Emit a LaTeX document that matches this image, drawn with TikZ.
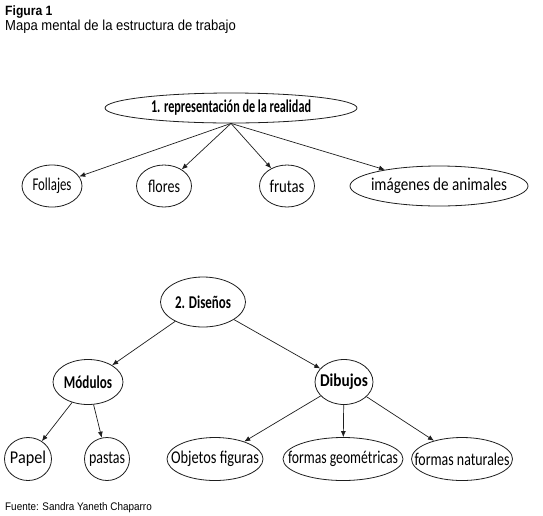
\documentclass[tikz,border=0pt]{standalone}
\usepackage{fontspec}
\setmainfont{Carlito}
\newfontfamily\capfont[FakeStretch=0.9]{Liberation Sans}
\usetikzlibrary{shapes.geometric, arrows.meta, positioning}
\definecolor{MapLine}{HTML}{1E1E1E}
\newcommand{\lbl}[2]{\makebox[0pt]{\resizebox{#1}{\height}{#2}}}

\begin{document}
\begin{tikzpicture}[x=1pt, y=-1pt, >={Latex[length=6pt,width=5pt]},
        concept/.style={ellipse, draw=MapLine, line width=0.8pt, inner sep=0pt, font=\fontsize{18}{20}\selectfont\bfseries},
        leaf/.style={ellipse, draw=MapLine, line width=0.8pt, inner sep=0pt, font=\fontsize{18}{20}\selectfont},
        caption/.style={anchor=base west, inner sep=0pt, font=\capfont},
        arrow/.style={->, MapLine, line width=0.7pt}]

        \useasboundingbox (0,0) rectangle (543,515);

        \node[caption, font=\capfont\bfseries\fontsize{13.5}{15}\selectfont] (fig) at (5,15) {Figura 1};
        \node[caption, font=\capfont\fontsize{14.5}{16}\selectfont] (title) at (5,30) {Mapa mental de la estructura de trabajo};

        % representacion
        \node[concept, minimum width=252pt, minimum height=30pt] (rep) at (231,108) {\lbl{160pt}{1. representación de la realidad}};
        \node[leaf, minimum width=60pt, minimum height=42pt] (fol) at (52,186) {\lbl{39pt}{Follajes}};
        \node[leaf, minimum width=55pt, minimum height=42pt] (flo) at (164,186) {\lbl{32pt}{flores}};
        \node[leaf, minimum width=55pt, minimum height=42pt] (fru) at (287,186) {\lbl{35pt}{frutas}};
        \node[leaf, minimum width=178pt, minimum height=40pt] (ima) at (439,186) {\lbl{136pt}{imágenes de animales}};

        \draw[arrow] (rep.south) -- (fol);
        \draw[arrow] (rep.south) -- (flo);
        \draw[arrow] (rep.south) -- (fru);
        \draw[arrow] (rep.south) -- (ima);

        % disenos
        \node[concept, minimum width=85pt, minimum height=50pt] (dis) at (203,302) {\lbl{56pt}{2. Diseños}};
        \node[concept, minimum width=70pt, minimum height=45pt] (mod) at (88,382) {\lbl{48pt}{Módulos}};
        \node[concept, minimum width=58pt, minimum height=45pt] (dib) at (344,382) {\lbl{48pt}{Dibujos}};
        \node[leaf, minimum width=47pt, minimum height=43pt] (pap) at (28,459) {\lbl{36pt}{Papel}};
        \node[leaf, minimum width=45pt, minimum height=43pt] (pas) at (107,459) {\lbl{36pt}{pastas}};
        \node[leaf, minimum width=96pt, minimum height=43pt] (obj) at (215,459) {\lbl{88pt}{Objetos figuras}};
        \node[leaf, minimum width=120pt, minimum height=43pt] (geo) at (343,459) {\lbl{110pt}{formas geométricas}};
        \node[leaf, minimum width=101pt, minimum height=43pt] (nat) at (462,459) {\lbl{95pt}{formas naturales}};

        \draw[arrow] (dis) -- (mod);
        \draw[arrow] (dis) -- (dib);
        \draw[arrow] (mod) -- (pap);
        \draw[arrow] (mod) -- (pas);
        \draw[arrow] (dib) -- (obj);
        \draw[arrow] (dib) -- (geo);
        \draw[arrow] (dib) -- (nat);

        \node[caption, font=\capfont\fontsize{11}{13}\selectfont] (src) at (5,510) {Fuente: Sandra Yaneth Chaparro};
    \end{tikzpicture}
\end{document}
